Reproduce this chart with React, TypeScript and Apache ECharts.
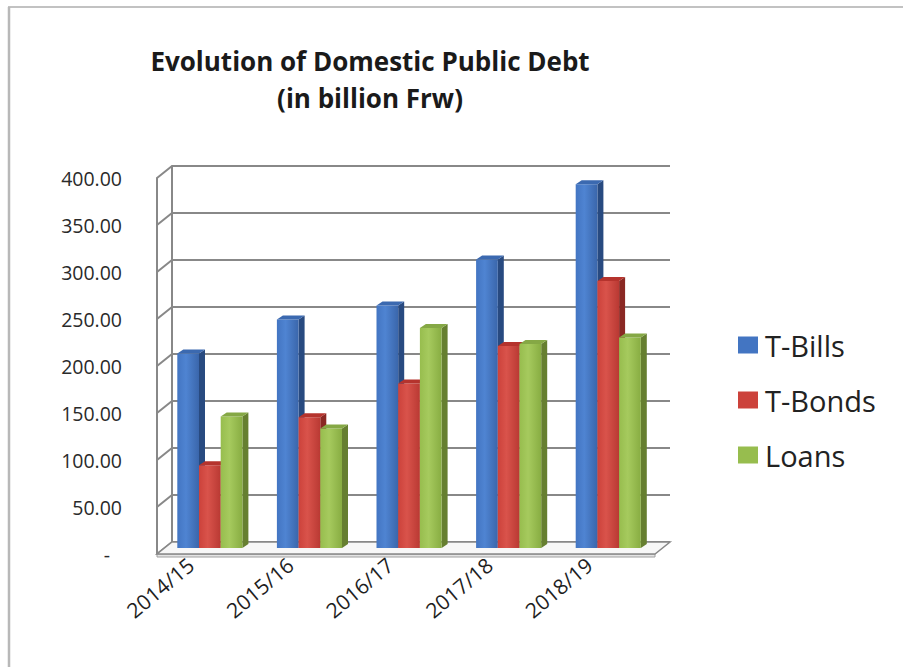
import React, { useEffect, useRef } from 'react';
import * as echarts from 'echarts';

const categories = ['2014/15', '2015/16', '2016/17', '2017/18', '2018/19'];
const seriesNames = ['T-Bills', 'T-Bonds', 'Loans'];
const tBills = [207, 243, 258, 307, 387];
const tBonds = [88, 139, 175, 215, 284];
const loans = [140, 127, 234, 217, 224];
const yTicks = [0, 50, 100, 150, 200, 250, 300, 350, 400];

const FONT = "'Open Sans', 'DejaVu Sans', sans-serif";
const GRID_W = 498;
const GRID_H = 376;
const BACK_LEFT = 172;
const BACK_TOP = 166;
const DEPTH_X = -15;
const DEPTH_Y = 12;
const LABEL_SHIFT = -16;
const LINE_COLOR = '#888888';

const palettes = [
  { base: '#4375c2', light: '#4f84d2', dark: '#3a66ab', side: '#284a80', top: '#3b69b0' },
  { base: '#cc423b', light: '#d9534b', dark: '#b93933', side: '#8a2823', top: '#b5332d' },
  { base: '#97bd4e', light: '#a6ca5e', dark: '#88ad42', side: '#667f30', top: '#85a845' },
];

export default function App() {
  const ref = useRef<HTMLDivElement>(null);
  useEffect(() => {
    if (!ref.current) return;
    const chart = echarts.init(ref.current, null, { renderer: 'svg' });
    const seriesValues = [tBills, tBonds, loans];

    const barSeries = seriesValues.map((vals, s) => ({
      type: 'custom',
      name: seriesNames[s],
      xAxisIndex: 2,
      yAxisIndex: 2,
      z: 5 + s,
      itemStyle: { color: palettes[s].base },
      encode: { x: 0, y: 1 },
      data: vals.map((v, i) => [i, v]),
      renderItem: (params: any, api: any) => {
        const idx = api.value(0);
        const v = api.value(1);
        const base = api.coord([idx, 0]);
        const top = api.coord([idx, v]);
        const bw = 21.7;
        const x0 = base[0] - 37 + s * bw;
        const x1 = x0 + bw;
        const sdx = 6;
        const sdy = -4;
        const p = palettes[s];
        return {
          type: 'group',
          children: [
            {
              type: 'polygon',
              shape: { points: [[x1, top[1]], [x1 + sdx, top[1] + sdy], [x1 + sdx, base[1] + sdy], [x1, base[1]]] },
              style: { fill: p.side },
            },
            {
              type: 'rect',
              shape: { x: x0, y: top[1], width: bw, height: base[1] - top[1] },
              style: {
                fill: new echarts.graphic.LinearGradient(0, 0, 1, 0, [
                  { offset: 0, color: p.base },
                  { offset: 0.4, color: p.light },
                  { offset: 1, color: p.dark },
                ]),
              },
            },
            {
              type: 'polygon',
              shape: { points: [[x0, top[1]], [x1, top[1]], [x1 + sdx, top[1] + sdy], [x0 + sdx, top[1] + sdy]] },
              style: { fill: p.top },
            },
          ],
        };
      },
    }));

    const option: any = {
      animation: false,
      backgroundColor: '#ffffff',
      title: {
        text: 'Evolution of Domestic Public Debt\n(in billion Frw)',
        left: 370,
        top: 42,
        textAlign: 'center',
        padding: 0,
        textStyle: {
          fontFamily: FONT,
          fontSize: 26,
          fontWeight: 'bold',
          color: '#1a1a1a',
          lineHeight: 37,
        },
      },
      legend: {
        orient: 'vertical',
        left: 733,
        top: 325,
        itemWidth: 20,
        itemHeight: 17,
        itemGap: 25,
        icon: 'rect',
        data: seriesNames,
        textStyle: { fontFamily: FONT, fontSize: 29, color: '#222', lineHeight: 30, padding: [0, 0, 0, 2] },
      },
      grid: [
        { left: BACK_LEFT, top: BACK_TOP, width: GRID_W, height: GRID_H },
        { left: BACK_LEFT + DEPTH_X, top: BACK_TOP + DEPTH_Y, width: GRID_W, height: GRID_H },
        { left: BACK_LEFT + DEPTH_X / 2, top: BACK_TOP + DEPTH_Y / 2, width: GRID_W, height: GRID_H },
        { left: BACK_LEFT + DEPTH_X + LABEL_SHIFT, top: BACK_TOP + DEPTH_Y, width: GRID_W, height: GRID_H },
      ],
      xAxis: [
        { gridIndex: 0, type: 'category', data: categories, axisLine: { show: false }, axisTick: { show: false }, axisLabel: { show: false } },
        { gridIndex: 1, type: 'category', data: categories, axisLine: { show: false }, axisTick: { show: false }, axisLabel: { show: false } },
        { gridIndex: 2, type: 'category', data: categories, axisLine: { show: false }, axisTick: { show: false }, axisLabel: { show: false } },
        {
          gridIndex: 3,
          type: 'category',
          data: categories,
          axisLine: { show: false },
          axisTick: { show: false },
          axisLabel: { rotate: 40, fontFamily: FONT, fontSize: 21, color: '#1e1e1e', margin: 8 },
        },
      ],
      yAxis: [
        {
          gridIndex: 0, type: 'value', min: 0, max: 400, interval: 50,
          axisLine: { show: true, lineStyle: { color: LINE_COLOR, width: 2 } },
          axisTick: { show: false },
          axisLabel: { show: false },
          splitLine: { show: true, lineStyle: { color: LINE_COLOR, width: 2 } },
        },
        {
          gridIndex: 1, type: 'value', min: 0, max: 400, interval: 50,
          axisLine: { show: true, lineStyle: { color: LINE_COLOR, width: 2 } },
          axisTick: { show: false },
          splitLine: { show: false },
          axisLabel: {
            margin: 35,
            fontFamily: FONT,
            fontSize: 19.5,
            color: '#2a2a2a',
            formatter: (v: number) => (v === 0 ? '{d|-}' : v.toFixed(2)),
            rich: { d: { fontFamily: FONT, fontSize: 19.5, color: '#2a2a2a', padding: [0, 12, 0, 0] } },
          },
        },
        {
          gridIndex: 2, type: 'value', min: 0, max: 400, interval: 50,
          axisLine: { show: false }, axisTick: { show: false }, axisLabel: { show: false }, splitLine: { show: false },
        },
        {
          gridIndex: 3, type: 'value', min: 0, max: 400, interval: 50, show: false,
        },
      ],
      graphic: [
        { type: 'line', shape: { x1: 8, y1: 7, x2: 903, y2: 7 }, style: { stroke: '#c2c2c2', lineWidth: 2 }, silent: true },
        { type: 'line', shape: { x1: 9, y1: 7, x2: 9, y2: 667 }, style: { stroke: '#b8b8b8', lineWidth: 2.5 }, silent: true },
      ],
      series: [
        {
          type: 'custom',
          name: 'leftWall',
          xAxisIndex: 0,
          yAxisIndex: 0,
          z: 1,
          silent: true,
          data: yTicks.map((v) => [0, v]),
          encode: { x: 0, y: 1 },
          renderItem: (params: any, api: any) => {
            const cs = params.coordSys;
            const y = api.coord([0, api.value(1)])[1];
            return {
              type: 'line',
              shape: { x1: cs.x, y1: y, x2: cs.x + DEPTH_X, y2: y + DEPTH_Y },
              style: { stroke: LINE_COLOR, lineWidth: 2 },
            };
          },
        },
        {
          type: 'custom',
          name: 'floor',
          xAxisIndex: 0,
          yAxisIndex: 0,
          z: 2,
          silent: true,
          data: [[0, 0]],
          encode: { x: 0, y: 1 },
          renderItem: (params: any, api: any) => {
            const cs = params.coordSys;
            const y0 = api.coord([0, 0])[1];
            const xl = cs.x;
            const xr = cs.x + cs.width;
            return {
              type: 'group',
              children: [
                {
                  type: 'polygon',
                  shape: { points: [[xl + DEPTH_X, y0 + DEPTH_Y], [xr + DEPTH_X, y0 + DEPTH_Y], [xr + DEPTH_X, y0 + DEPTH_Y + 3], [xl + DEPTH_X, y0 + DEPTH_Y + 3]] },
                  style: { fill: '#e4e4e4', stroke: '#a0a0a0', lineWidth: 1 },
                },
                {
                  type: 'polygon',
                  shape: { points: [[xl, y0], [xr, y0], [xr + DEPTH_X, y0 + DEPTH_Y], [xl + DEPTH_X, y0 + DEPTH_Y]] },
                  style: { fill: '#f7f7f7', stroke: LINE_COLOR, lineWidth: 1.5 },
                },
              ],
            };
          },
        },
        ...barSeries,
      ],
    };
    chart.setOption(option);
    return () => chart.dispose();
  }, []);
  return <div ref={ref} style={{ position: 'fixed', left: 0, top: 0, width: 903, height: 667 }} />;
}
